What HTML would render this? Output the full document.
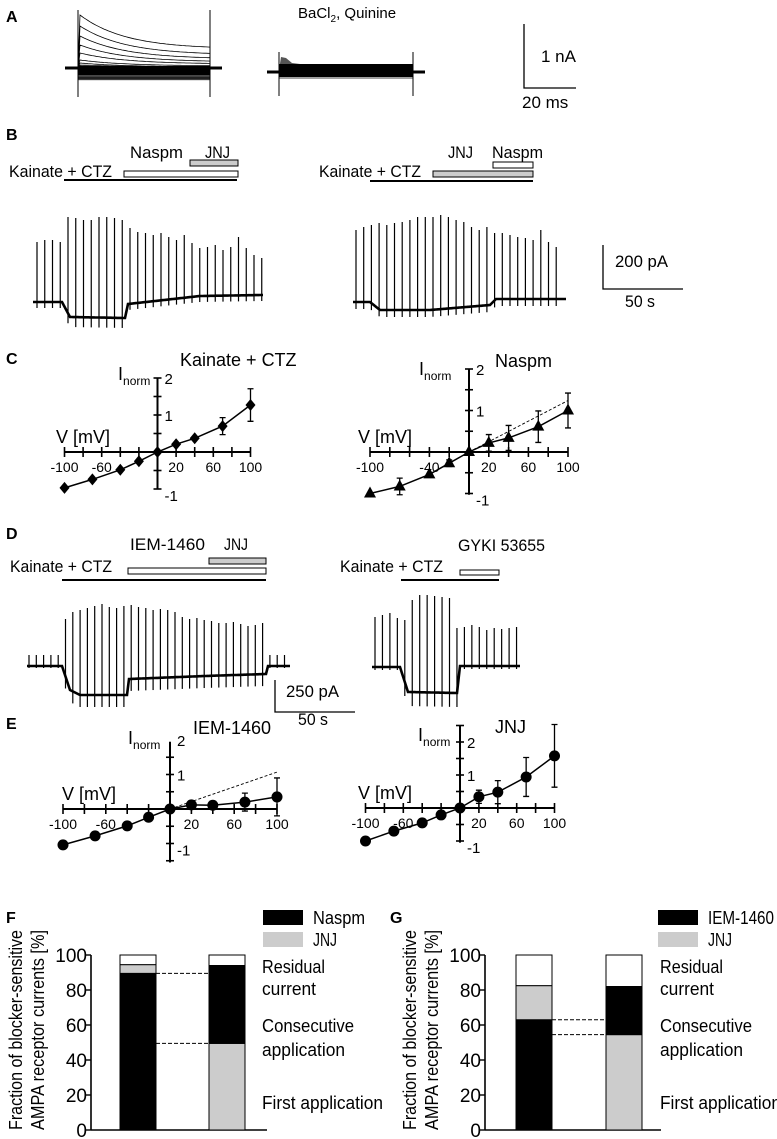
<!DOCTYPE html>
<html><head><meta charset="utf-8"><style>
html,body{margin:0;padding:0;background:#fff;}
svg{display:block;font-family:"Liberation Sans Narrow","Liberation Sans",sans-serif;}
</style></head><body>
<svg id="fig" width="777" height="1139" viewBox="0 0 777 1139" xmlns="http://www.w3.org/2000/svg"></svg>
<script>
// ---- IV data ----
const ivV = [-100,-70,-40,-20,0,20,40,70,100];
const kainateI = [-0.97,-0.74,-0.48,-0.25,0,0.21,0.37,0.70,1.27];
const kainateErr = [0.03,0.06,0.05,0.05,0,0.05,0.06,0.23,0.44];
const naspmI = [-1.0,-0.83,-0.54,-0.27,0,0.22,0.34,0.61,1.0];
const naspmErr = [0.03,0.2,0.06,0.08,0.06,0.2,0.3,0.38,0.42];
const iemI = [-1.04,-0.78,-0.49,-0.24,0,0.12,0.11,0.2,0.35];
const iemErr = [0.03,0.1,0.07,0.04,0.03,0.03,0.03,0.26,0.55];
const jnjI = [-1.0,-0.7,-0.45,-0.21,0,0.34,0.48,0.94,1.58];
const jnjErr = [0.03,0.12,0.1,0.05,0.03,0.2,0.35,0.59,0.95];
const naspmRefEnd = 1.24;
const iemRefEnd = 1.07;
// ---- bar data (first application, consecutive, residual) ----
const fBar1 = [89.5,5,5.5];
const fBar2 = [49.5,44.5,6];
const gBar1 = [63,19.5,17.5];
const gBar2 = [54.5,27.5,18];
const barTicks = [0,20,40,60,80,100];
// ---- trace amplitudes ----
const bLeftTops = [242,240,240,242,217,218,220,220,217,217,218,220,228,232,233,235,233,237,240,235,243,248,247,245,250,247,237,248,255,258];
const bRightTops = [230,227,225,223,225,223,222,220,217,217,217,215,217,220,222,227,230,227,233,233,235,237,238,240,230,242,247];
const dLeftTops = [655,655,655,655,655,619,612,610,608,606,604,607,608,606,605,607,608,610,609,610,612,617,619,618,620,621,623,623,622,624,626,625,623,655,655,655];
const dRightTops = [617,615,613,618,620,600,595,595,596,597,598,628,627,625,627,630,628,629,628,627];
const aPeaks = [15,26,36,45,53,60,63,65,66];
const aEnds = [49,55,59,62,64,66,67,67,68];

const NS='http://www.w3.org/2000/svg';
const svg=document.getElementById('fig');
function mk(tag,at,parent){const e=document.createElementNS(NS,tag);for(const k in at)e.setAttribute(k,at[k]);(parent||svg).appendChild(e);return e;}
function txt(x,y,s,size,extra){const t=mk('text',Object.assign({x:x,y:y,'font-size':size,fill:'#000'},extra||{}));t.textContent=s;return t;}
function grp(){return mk('g',{});}

// panel letters
[['A',6,22],['B',6,140],['C',6,364],['D',6,539],['E',6,729],['F',6,923],['G',390,923]].forEach(p=>{
  const t=txt(p[1],p[2],p[0],16,{'font-weight':'bold','font-family':'Liberation Sans, sans-serif'});
  
  
});

// ---------- Panel A ----------
(function(){
  const g=grp();
  
  
  for(let i=0;i<aPeaks.length;i++){
    let d='M78 68 L80 '+aPeaks[i];
    for(let x=80;x<=210;x+=2){const y=aEnds[i]+(aPeaks[i]-aEnds[i])*Math.exp(-(x-80)/45);d+=' L'+x+' '+y.toFixed(1);}
    mk('path',{d:d,fill:'none',stroke:'#000','stroke-width':0.8},g);
  }
  for(let y=69;y<=80;y+=0.9){mk('line',{x1:78,x2:210,y1:y,y2:y+(y>75?0:-0.5),stroke:'#000','stroke-width':0.7},g);}
  mk('rect',{x:78,y:66,width:132,height:9,fill:'#000'},g);
  mk('line',{x1:65,x2:222,y1:68,y2:68,stroke:'#000','stroke-width':3},g);
  mk('line',{x1:78,x2:78,y1:10,y2:97,stroke:'#000','stroke-width':1},g);
  mk('line',{x1:210,x2:210,y1:10,y2:97,stroke:'#000','stroke-width':1},g);
  const g2=grp();
  
  
  mk('path',{d:'M279 70 L281 57 L286 58 L292 63 L300 64 L413 66 L413 70 Z',fill:'#555'},g2);
  mk('rect',{x:279,y:64,width:134,height:13,fill:'#000'},g2);
  mk('line',{x1:279,x2:413,y1:78,y2:78,stroke:'#000','stroke-width':0.8},g2);
  mk('line',{x1:267,x2:425,y1:72,y2:72,stroke:'#000','stroke-width':3},g2);
  mk('line',{x1:279,x2:279,y1:52,y2:96,stroke:'#000','stroke-width':1},g2);
  mk('line',{x1:413,x2:413,y1:52,y2:96,stroke:'#000','stroke-width':1},g2);
  const t=mk('text',{x:298,y:18,'font-size':15,fill:'#000'});
  
  
  t.innerHTML='BaCl<tspan font-size="10" dy="4">2</tspan><tspan dy="-4">, Quinine</tspan>';
  const sb=grp();
  
  
  mk('path',{d:'M524 24 L524 88 L576 88',fill:'none',stroke:'#000','stroke-width':1.3},sb);
  const t1=txt(541,62,'1 nA',17);
  const t2=txt(522,108,'20 ms',17);
})();

// ---------- application bars ----------
function appBar(x1,x2,y1,y2,fill,name){const r=mk('rect',{x:x1,y:y1,width:x2-x1,height:y2-y1,fill:fill,stroke:'#000','stroke-width':1});return r;}
function appLine(x1,x2,y,name){const l=mk('line',{x1:x1,x2:x2,y1:y,y2:y,stroke:'#000','stroke-width':2});}
function label(x,y,s,size,w,name){const t=txt(x,y,s,size,w?{textLength:w,lengthAdjust:'spacingAndGlyphs'}:{});return t;}
// B left
label(130,158,'Naspm',17,53,'label-naspm');label(205,158,'JNJ',17,25,'label-jnj');
appBar(190,238,160,166,'#ccc','jnj-application-bar');
appBar(124,238,171,177,'#fff','naspm-application-bar');
appLine(64,237,180,'kainate-application-line');
label(9,177,'Kainate + CTZ',17,103,'label-kainate-ctz');
// B right
label(448,158,'JNJ',17,25,'label-jnj');label(492,158,'Naspm',17,51,'label-naspm');
appBar(493,533,162,168,'#fff','naspm-application-bar');
appBar(433,533,171,177,'#ccc','jnj-application-bar');
appLine(370,533,181,'kainate-application-line');
label(319,177,'Kainate + CTZ',17,102,'label-kainate-ctz');
// D left
label(130,550,'IEM-1460',17,75,'label-iem1460');label(224,550,'JNJ',17,24,'label-jnj');
appBar(209,266,558,564,'#ccc','jnj-application-bar');
appBar(128,266,568,574,'#fff','iem-application-bar');
appLine(62,266,580,'kainate-application-line');
label(10,572,'Kainate + CTZ',17,102,'label-kainate-ctz');
// D right
label(458,551,'GYKI 53655',17,87,'label-gyki');
appBar(460,499,570,575,'#fff','gyki-application-bar');
appLine(401,499,580,'kainate-application-line');
label(340,572,'Kainate + CTZ',17,103,'label-kainate-ctz');

// ---------- current traces ----------
function trace(name,x0,dx,tops,baseFn,tail,xs,xe){
  const g=grp();
  
  
  let d='M'+xs+' '+baseFn(xs);
  for(let x=xs;x<=xe;x+=1)d+=' L'+x+' '+baseFn(x).toFixed(1);
  mk('path',{d:d,fill:'none',stroke:'#000','stroke-width':2.6},g);
  for(let i=0;i<tops.length;i++){
    const x=x0+i*dx;const b=baseFn(x);
    const s=mk('line',{x1:x,x2:x,y1:b+tail(x),y2:tops[i],stroke:'#000','stroke-width':1.2},g);
    
  }
}
function pw(pts){return x=>{if(x<=pts[0][0])return pts[0][1];for(let i=1;i<pts.length;i++){if(x<=pts[i][0]){const a=pts[i-1],b=pts[i];return a[1]+(b[1]-a[1])*(x-a[0])/(b[0]-a[0]);}}return pts[pts.length-1][1];};}
trace('trace-b-left',37,7.75,bLeftTops,pw([[33,302],[62,302],[70,317],[125,318],[128,304],[200,296],[263,295]]),x=>(x>66&&x<126)?10:6,33,263);
trace('trace-b-right',356,7.7,bRightTops,pw([[353,302],[370,302],[380,310],[430,310],[490,305],[496,299],[566,299]]),x=>7,353,566);
trace('trace-d-left',29,7.3,dLeftTops,pw([[27,666],[62,666],[70,690],[80,695],[127,695],[129,679],[205,676],[266,674],[268,666],[290,666]]),x=>(x>62&&x<266)?12:2,27,290);
trace('trace-d-right',375,7.45,dRightTops,pw([[372,667],[400,667],[408,692],[457,693],[460,666],[520,666]]),x=>(x>400&&x<460)?14:3,372,520);
(function(){
  const g=grp();
  mk('path',{d:'M603 245 L603 289 L683 289',fill:'none',stroke:'#000','stroke-width':1.3},g);
  label(615,267,'200 pA',17,53,'scale-200pa');label(625,307,'50 s',17,30,'scale-50s');
  const g2=grp();
  mk('path',{d:'M275 680 L275 712 L355 712',fill:'none',stroke:'#000','stroke-width':1.3},g2);
  label(286,697,'250 pA',17,53,'scale-250pa');label(298,725,'50 s',17,30,'scale-50s');
})();

// ---------- IV charts ----------
function ivChart(c){
  const g=grp();
  
  
  const X=v=>c.x0+v*c.sx, Y=i=>c.y0-i*c.sy;
  mk('line',{x1:X(-100),x2:X(100),y1:c.y0,y2:c.y0,stroke:'#000','stroke-width':2},g);
  mk('line',{x1:c.x0,x2:c.x0,y1:Y(c.yMax),y2:Y(c.yMin),stroke:'#000','stroke-width':2},g);
  for(let v=-100;v<=100;v+=20){if(v===0)continue;mk('line',{x1:X(v),x2:X(v),y1:c.y0-5,y2:c.y0+5,stroke:'#000','stroke-width':1.6},g);}
  for(let k=Math.ceil(c.yMin*2);k<=Math.floor(c.yMax*2);k++){if(k===0)continue;mk('line',{x1:c.x0-4,x2:c.x0+4,y1:Y(k/2),y2:Y(k/2),stroke:'#000','stroke-width':1.6},g);}
  c.xLabels.forEach(v=>{const t=txt(X(v),c.y0+20,String(v),14,{'text-anchor':'middle'},g);});
  [2,1,-1].forEach(v=>{const t=txt(c.x0+7,Y(v)+(v===-1?12:6),String(v),15);});
  const vl=txt(c.vx,c.y0-9,'V [mV]',18);
  const il=mk('text',{x:c.ix,y:c.iy,'font-size':18,fill:'#000'});il.innerHTML='I<tspan font-size="12" dy="5">norm</tspan>';
  
  const tt=txt(c.tx,c.ty,c.title,18);
  if(c.refEnd!==undefined){const r=mk('line',{x1:X(0),y1:Y(0),x2:X(100),y2:Y(c.refEnd),stroke:'#000','stroke-width':0.9,'stroke-dasharray':'3,2'},g);}
  let d='';
  ivV.forEach((v,i)=>{d+=(i?' L':'M')+X(v).toFixed(1)+' '+Y(c.I[i]).toFixed(1);});
  const ln=mk('path',{d:d,fill:'none',stroke:'#000','stroke-width':1.5},g);
  ivV.forEach((v,i)=>{
    const x=X(v),y=Y(c.I[i]),e=c.E[i]*c.sy;
    if(e>3){const eb=mk('path',{d:`M${x} ${y-e} L${x} ${y+e} M${x-3} ${y-e} L${x+3} ${y-e} M${x-3} ${y+e} L${x+3} ${y+e}`,stroke:'#000','stroke-width':1.3,fill:'none'},g);}
    let m;
    if(c.marker==='diamond')m=mk('path',{d:`M${x} ${y-6} L${x+5} ${y} L${x} ${y+6} L${x-5} ${y} Z`,fill:'#000'},g);
    else if(c.marker==='tri')m=mk('path',{d:`M${x} ${y-7} L${x+6} ${y+4} L${x-6} ${y+4} Z`,fill:'#000'},g);
    else m=mk('circle',{cx:x,cy:y,r:5.5,fill:'#000'},g);
    
    
  });
}
ivChart({name:'iv-chart-kainate',x0:157.5,y0:452,sx:0.93,sy:37,yMin:-1,yMax:2,I:kainateI,E:kainateErr,marker:'diamond',xLabels:[-100,-60,20,60,100],vx:56,ix:118,iy:380,title:'Kainate + CTZ',tx:180,ty:366});
ivChart({name:'iv-chart-naspm',x0:469,y0:452,sx:0.99,sy:41.5,yMin:-1.03,yMax:2,I:naspmI,E:naspmErr,marker:'tri',xLabels:[-100,-40,20,60,100],vx:358,ix:419,iy:375,title:'Naspm',tx:495,ty:367,refEnd:naspmRefEnd});
ivChart({name:'iv-chart-iem1460',x0:170,y0:809,sx:1.07,sy:34.5,yMin:-1.55,yMax:1.95,I:iemI,E:iemErr,marker:'circle',xLabels:[-100,-60,20,60,100],vx:62,ix:128,iy:744,title:'IEM-1460',tx:193,ty:734,refEnd:iemRefEnd});
ivChart({name:'iv-chart-jnj',x0:460,y0:808,sx:0.945,sy:33,yMin:-1.05,yMax:2.5,I:jnjI,E:jnjErr,marker:'circle',xLabels:[-100,-60,20,60,100],vx:358,ix:418,iy:741,title:'JNJ',tx:495,ty:733});

// ---------- stacked bar charts ----------
function barChart(c){
  const g=grp();
  
  
  const Y=v=>c.y0-v*1.75;
  mk('line',{x1:c.ax,x2:c.ax,y1:Y(100),y2:Y(0),stroke:'#000','stroke-width':1.6},g);
  mk('line',{x1:c.ax,x2:c.ax+176,y1:Y(0),y2:Y(0),stroke:'#000','stroke-width':1.6},g);
  barTicks.forEach(v=>{mk('line',{x1:c.ax-6,x2:c.ax,y1:Y(v),y2:Y(v),stroke:'#000','stroke-width':1.4},g);
    const t=txt(c.ax-4,Y(v)+7,String(v),19,{'text-anchor':'end'});});
  const draw=(bx,vals,cols)=>{let acc=0;const names=['first-application','consecutive-application','residual-current'];
    vals.forEach((v,i)=>{const r=mk('rect',{x:bx,y:Y(acc+v),width:36,height:v*1.75,fill:cols[i],stroke:'#000','stroke-width':1},g);
      acc+=v;});};
  draw(c.b1,c.d1,['#000','#ccc','#fff']);
  draw(c.b2,c.d2,['#ccc','#000','#fff']);
  [c.d1[0],c.d2[0]].forEach(v=>{const l=mk('line',{x1:c.b1+36,x2:c.b2,y1:Y(v),y2:Y(v),stroke:'#000','stroke-width':1,'stroke-dasharray':'4,2'},g);});
  const yt=mk('text',{x:0,y:0,'font-size':18,fill:'#000','text-anchor':'middle','font-family':'Liberation Sans, sans-serif',transform:`translate(${c.ax-69},${1030}) rotate(-90)`,textLength:200,lengthAdjust:'spacingAndGlyphs'});
  yt.textContent='Fraction of blocker-sensitive';
  const yt2=mk('text',{x:0,y:0,'font-size':18,fill:'#000','text-anchor':'middle','font-family':'Liberation Sans, sans-serif',transform:`translate(${c.ax-47},${1030}) rotate(-90)`,textLength:200,lengthAdjust:'spacingAndGlyphs'});
  yt2.textContent='AMPA receptor currents [%]';
  const lb=mk('rect',{x:c.lx,y:910,width:40,height:15,fill:'#000'});
  const lg=mk('rect',{x:c.lx,y:932,width:40,height:15,fill:'#ccc'});
  label(c.lx+50,924,c.blackName,18,c.blackW,'legend-entry');
  label(c.lx+50,946,'JNJ',18,24,'legend-entry');
  label(c.tx,973,'Residual',18,63,'annotation-residual');
  label(c.tx,995,'current',18,54,'annotation-current');
  label(c.tx,1032,'Consecutive',18,92,'annotation-consecutive');
  label(c.tx,1056,'application',18,83,'annotation-application');
  label(c.tx,1109,'First application',18,121,'annotation-first-application');
}
barChart({name:'bar-chart-f',ax:91,y0:1130,b1:120,b2:209,d1:fBar1,d2:fBar2,lx:263,tx:262,blackName:'Naspm',blackW:52});
barChart({name:'bar-chart-g',ax:485,y0:1130,b1:516,b2:606,d1:gBar1,d2:gBar2,lx:658,tx:660,blackName:'IEM-1460',blackW:66});
</script>
</body></html>
